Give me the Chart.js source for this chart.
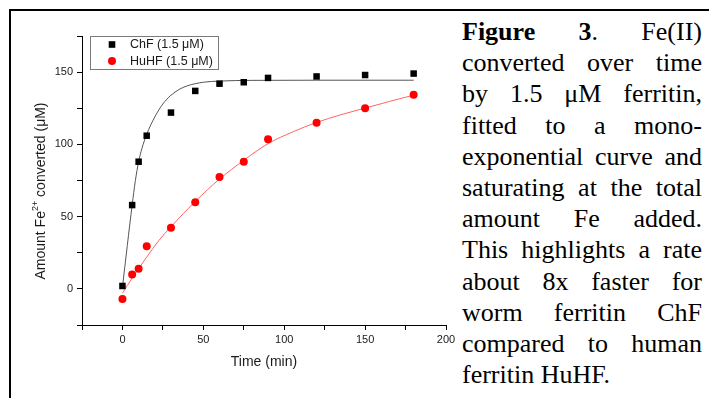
<!DOCTYPE html>
<html><head><meta charset="utf-8">
<script src="https://cdn.jsdelivr.net/npm/chart.js@4"></script>
<style>
html,body{margin:0;padding:0;background:#fff;width:709px;height:398px;overflow:hidden;position:relative}
#frame{position:absolute;left:9px;top:9px;width:800px;height:500px;border:2px solid #000;box-sizing:border-box}
#wrap{position:absolute;left:0;top:0;width:460px;height:398px}
#cap{position:absolute;left:462px;top:16px;width:240px;font-family:"Liberation Serif","Times New Roman",serif;font-size:26px;line-height:31.2px;color:#000}
.l{text-align:justify;text-align-last:justify}
.l.last{text-align:left;text-align-last:left}
</style></head>
<body>
<div id="frame"></div>
<div id="wrap"><canvas id="c" width="460" height="398"></canvas></div>
<div id="cap">
<div class="l"><b>Figure 3</b>. Fe(II)</div>
<div class="l">converted over time</div>
<div class="l">by 1.5 μM ferritin,</div>
<div class="l">fitted to a mono-</div>
<div class="l">exponential curve and</div>
<div class="l">saturating at the total</div>
<div class="l">amount Fe added.</div>
<div class="l">This highlights a rate</div>
<div class="l">about 8x faster for</div>
<div class="l">worm ferritin ChF</div>
<div class="l">compared to human</div>
<div class="l last">ferritin HuHF.</div>
</div>
<script>
const chfTime = [0, 6, 10, 15, 30, 45, 60, 75, 90, 120, 150, 180];
const chfValues = [2, 58, 88, 106, 122, 137, 142, 143, 146, 147, 148, 149];
const huhfTime = [0, 6, 10, 15, 30, 45, 60, 75, 90, 120, 150, 180];
const huhfValues = [-7, 10, 14, 29.5, 42.3, 60, 77.4, 88, 103.5, 115, 125, 134.4];
const chfFitTime = [0, 3, 6, 8, 10, 12, 15, 20, 25, 30, 35, 40, 50, 60, 80, 120, 180];
const chfFitValues = [1, 30, 58, 75, 88, 97, 107, 119, 128, 134, 138, 140.5, 143, 143.8, 144.3, 144.4, 144.4];
const huhfFitTime = [0, 6, 10, 15, 22.5, 30, 45, 60, 75, 90, 105, 120, 135, 150, 165, 180];
const huhfFitValues = [-3, 7.5, 14, 22, 33.5, 43, 60.5, 76, 89, 100.5, 108.5, 115.2, 120.5, 125.1, 129.7, 134.1];
const xTicks = [-25, 0, 25, 50, 75, 100, 125, 150, 175, 200];
const xTickLabels = ['', '0', '', '50', '', '100', '', '150', '', '200'];
const yTicks = [-25, 0, 25, 50, 75, 100, 125, 150, 175];
const yTickLabels = ['', '0', '', '50', '', '100', '', '150', ''];
const seriesNames = ['ChF (1.5 μM)', 'HuHF (1.5 μM)'];
const xTitle = 'Time (min)';
const yTitleParts = ['Amount Fe', '2+', ' converted (μM)'];

const FONT = '"Liberation Sans", Arial, sans-serif';
const pts = (xs, ys) => xs.map((x, i) => ({x: x, y: ys[i]}));

const extras = {
  id: 'extras',
  afterDraw(chart) {
    const ctx = chart.ctx;
    const ca = chart.chartArea;
    ctx.save();
    // legend
    ctx.strokeStyle = '#7a7a7a'; ctx.lineWidth = 1;
    ctx.strokeRect(90.5, 36.5, 128, 33);
    ctx.fillStyle = '#000';
    ctx.fillRect(112 - 3.3, 44.5 - 3.3, 6.6, 6.6);
    ctx.fillStyle = '#ff0000';
    ctx.beginPath(); ctx.arc(112, 61, 4, 0, Math.PI * 2); ctx.fill();
    ctx.fillStyle = '#1a1a1a';
    ctx.font = '12.5px ' + FONT;
    ctx.textBaseline = 'middle'; ctx.textAlign = 'left';
    ctx.fillText(seriesNames[0], 130, 45);
    ctx.fillText(seriesNames[1], 130, 61.5);
    // x title
    ctx.font = '14px ' + FONT; ctx.textAlign = 'center';
    ctx.fillText(xTitle, (ca.left + ca.right) / 2, 362);
    // y title
    ctx.translate(40, 191); ctx.rotate(-Math.PI / 2);
    ctx.textAlign = 'left'; ctx.textBaseline = 'alphabetic';
    const f1 = '14px ' + FONT, f2 = '9px ' + FONT;
    ctx.font = f1; const w1 = ctx.measureText(yTitleParts[0]).width, w3 = ctx.measureText(yTitleParts[2]).width;
    ctx.font = f2; const w2 = ctx.measureText(yTitleParts[1]).width;
    let x = -(w1 + w2 + w3) / 2;
    ctx.font = f1; ctx.fillText(yTitleParts[0], x, 5); x += w1;
    ctx.font = f2; ctx.fillText(yTitleParts[1], x, -2); x += w2;
    ctx.font = f1; ctx.fillText(yTitleParts[2], x, 5);
    ctx.restore();
  }
};

const axisCommon = {
  type: 'linear',
  grid: {drawOnChartArea: false, drawTicks: true, tickLength: 5, color: '#000', lineWidth: 1},
  border: {display: true, color: '#000', width: 1},
};

new Chart(document.getElementById('c'), {
  type: 'scatter',
  data: {datasets: [
    {label: seriesNames[0], data: pts(chfTime, chfValues), pointStyle: 'rect', pointRadius: 4.6, backgroundColor: '#000', borderWidth: 0, showLine: false},
    {label: seriesNames[1], data: pts(huhfTime, huhfValues), pointStyle: 'circle', pointRadius: 4, backgroundColor: '#ff0000', borderWidth: 0, showLine: false},
    {label: 'ChF fit', data: pts(chfFitTime, chfFitValues), showLine: true, pointRadius: 0, borderColor: '#555', borderWidth: 1, cubicInterpolationMode: 'monotone', fill: false},
    {label: 'HuHF fit', data: pts(huhfFitTime, huhfFitValues), showLine: true, pointRadius: 0, borderColor: '#ff6464', borderWidth: 1, cubicInterpolationMode: 'monotone', fill: false}
  ]},
  options: {
    responsive: false, animation: false, events: [],
    layout: {padding: {left: 0, top: 36, right: 14, bottom: 0}},
    plugins: {legend: {display: false}, tooltip: {enabled: false}},
    scales: {
      x: Object.assign({}, axisCommon, {
        min: -25, max: 200,
        afterFit: s => { s.height = 73; },
        afterBuildTicks: s => { s.ticks = xTicks.map(v => ({value: v})); },
        ticks: {autoSkip: false, maxRotation: 0, padding: 3, color: '#1a1a1a', font: {family: FONT, size: 11}, callback: (v, i) => xTickLabels[i]}
      }),
      y: Object.assign({}, axisCommon, {
        min: -25, max: 175,
        afterFit: s => { s.width = 82; },
        afterBuildTicks: s => { s.ticks = yTicks.map(v => ({value: v})); },
        ticks: {autoSkip: false, padding: 4, color: '#1a1a1a', font: {family: FONT, size: 11}, callback: (v, i) => yTickLabels[i]}
      })
    }
  },
  plugins: [extras]
});
</script>
</body></html>
